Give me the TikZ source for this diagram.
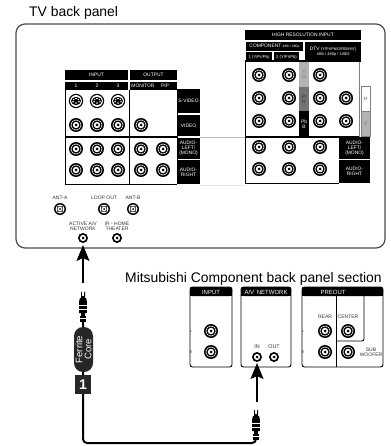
\documentclass[tikz,border=0pt]{standalone}
\usepackage{fontspec}
\setmainfont{Liberation Sans}
\usetikzlibrary{arrows.meta}
\tikzset{
 hdr/.style={fill=black,draw=none,text=white,inner sep=0pt,align=center,font=\fontsize{4.9}{5.2}\selectfont},
 small/.style={inner sep=0pt,align=center,text=black!80,font=\fontsize{5}{5.2}\selectfont},
 title/.style={inner sep=0pt,anchor=base west,font=\fontsize{13.9}{16}\selectfont},
 panel/.style={draw=black,line width=.9pt},
 conn/.style={line width=1.2pt,-{Stealth[length=16pt,width=13pt,inset=3pt]}},
 cable/.style={line width=2pt,rounded corners=4pt}
}
\newcommand{\bigjack}[2]{%
 \fill (#1,#2) circle (7);
 \fill[white] (#1,#2) circle (5.4);
 \fill (#1,#2) circle (4.7);
 \fill[white] (#1,#2) circle (3.2);
 \fill (#1,#2) circle (1.5);
}
\newcommand{\smjack}[2]{%
 \fill (#1,#2) circle (5);
 \fill[white] (#1,#2) circle (3.1);
 \fill (#1,#2) circle (1.5);
}
\newcommand{\svideo}[2]{%
 \fill (#1,#2) circle (7.2);
 \fill[white] (#1,#2) circle (5.9);
 \fill (#1,#2) ellipse (5 and 4.1);
 \foreach \dx/\dy in {-2.3/-1.4,2.3/-1.4,-3/.8,3/.8,0/2}{\fill[white] (#1+\dx,#2+\dy) circle (.8);}
 \fill[white] (#1-1.1,#2-3.4) rectangle (#1+1.1,#2-2);
}
\newcommand{\antjack}[2]{%
 \fill (#1,#2) circle (6);
 \fill[white] (#1,#2) circle (4.5);
 \fill[black!70] (#1-3.2,#2-3.2) rectangle (#1+3.2,#2+3.2);
 \fill[white] (#1,#2) circle (2.3);
 \fill (#1,#2) circle (1);
}
\newcommand{\plugshape}[2]{%
 \fill (#1-2,#2+9) -- (#1-2,#2+2) arc (180:0:2) -- (#1+2,#2+9) -- cycle;
 \fill[white] (#1-.8,#2+2.5) rectangle (#1+.8,#2+7);
 \fill (#1-3,#2+9) -- (#1+3,#2+9) -- (#1+3.8,#2+12) -- (#1+3.8,#2+24) -- (#1-3.8,#2+24) -- (#1-3.8,#2+12) -- cycle;
 \foreach \d in {16,20}{\draw[white,line width=.3pt] (#1-3.8,#2+\d) -- (#1+3.8,#2+\d);}
 \fill (#1-1.8,#2+24) rectangle (#1+1.8,#2+27);
 \fill (#1-3.4,#2+27) rectangle (#1+3.4,#2+33);
 \draw[white,line width=.3pt] (#1-3.4,#2+29.5) -- (#1+3.4,#2+29.5);
}
\begin{document}
\begin{tikzpicture}[x=1pt,y=-1pt]
\useasboundingbox (0,0) rectangle (390,446);
\fill[white] (0,0) rectangle (390,446);
% titles
\node[title] (t1) at (29,17) {TV back panel};
\node[title] (t2) at (125,282) {Mitsubishi Component back panel section};
% TV panel
\draw[draw=black!70,line width=1.2pt,rounded corners=9pt] (16,24) rectangle (385,248);
\draw[black!25,line width=.5pt] (200,137) -- (245,137);
\draw[black!10,line width=.5pt] (200,185) -- (245,185);
% input block
\node[hdr,minimum width=63,minimum height=10] (inhdr) at (96.5,75) {INPUT};
\node[hdr,minimum width=47,minimum height=10] (outhdr) at (153.5,75) {OUTPUT};
\fill (65,82) rectangle (128,90);
\fill (130,82) rectangle (177,90);
\node[hdr] (n1) at (76,86) {1};
\node[hdr] (n2) at (97,86) {2};
\node[hdr] (n3) at (118,86) {3};
\node[hdr] (mon) at (143,86) {MONITOR};
\node[hdr] (pip) at (165,86) {PIP};
\draw[line width=.8pt] (65,90) -- (65,184) -- (177,184);
\draw[line width=.8pt] (129,90) -- (129,184);
\draw[line width=.8pt] (177,90) -- (177,184);
\draw[line width=1.1pt] (65,137) -- (177,137);
\node[hdr,minimum width=23,minimum height=24] (sv) at (188.5,101) {S-VIDEO};
\node[hdr,minimum width=23,minimum height=21] (vd) at (188.5,125.5) {VIDEO};
\node[hdr,minimum width=23,minimum height=21] (al) at (188.5,148.5) {AUDIO-\\LEFT/\\(MONO)};
\node[hdr,minimum width=23,minimum height=24] (ar) at (188.5,172) {AUDIO-\\RIGHT};
\foreach \x in {76,97,118}{\svideo{\x}{101}\bigjack{\x}{125}}
\bigjack{141}{125}
\foreach \x in {76,97,118,141,163}{\bigjack{\x}{149}\bigjack{\x}{170}}
% high res block
\node[hdr,minimum width=116,minimum height=10] (hi) at (303,35) {HIGH RESOLUTION INPUT};
\node[hdr,minimum width=57,minimum height=9.5] (comp) at (274.5,46.5) {COMPONENT {\fontsize{3.4}{4}\selectfont 480i / 480p}};
\node[hdr,minimum width=26,minimum height=10,font=\fontsize{4.2}{5}\selectfont] (c1) at (259,57) {1 (Y/Pr/Pb)};
\node[hdr,minimum width=25,minimum height=10,font=\fontsize{4.2}{5}\selectfont] (c2) at (286.5,57) {2 (Y/Pr/Pb)};
\node[hdr,minimum width=56,minimum height=20] (dtv) at (333,52) {DTV {\fontsize{4}{5}\selectfont(Y/Pr/Pb/G/RB/H/V)}\\[-.5pt]{\fontsize{4}{5}\selectfont 480i / 480p / 1080i}};
\fill (245,60) rectangle (361,62);
\draw[line width=.8pt] (245,62) -- (245,183) -- (339,183);
\draw[black!50,line width=.8pt] (359,62) -- (359,137);
\draw[line width=1.1pt] (245,137) -- (359,137);
\node[hdr,fill=black!30,minimum width=10,minimum height=25,text=black!55] (yg) at (304,74.5) {Y\\G};
\node[hdr,fill=black!55,minimum width=10,minimum height=24,text=black!80] (pr) at (304,99) {Pr\\R};
\node[hdr,minimum width=10,minimum height=26] (pb) at (304,124) {Pb\\B};
\foreach \x in {259,289,320}{\bigjack{\x}{75}}
\foreach \x in {259,289,320,346}{\bigjack{\x}{98}\bigjack{\x}{121}}
\foreach \x in {259,289,320}{\bigjack{\x}{147}\bigjack{\x}{169}}
\node[hdr,fill=white,draw=black!50,line width=.8pt,text=black!70,minimum width=9,minimum height=25] (hh) at (365.5,98.5) {H};
\node[hdr,fill=black!30,draw=black!50,line width=.8pt,text=black!55,minimum width=9,minimum height=25] (vv) at (365.5,123.5) {V};
\node[hdr,minimum width=31,minimum height=22] (al2) at (354.5,148) {AUDIO-\\LEFT/\\(MONO)};
\node[hdr,minimum width=31,minimum height=23] (ar2) at (354.5,171.5) {AUDIO-\\RIGHT};
% antenna row
\node[small] (anta) at (60,198) {ANT-A};
\node[small] (loop) at (104,198) {LOOP OUT};
\node[small] (antb) at (133,198) {ANT-B};
\antjack{60}{209}\antjack{104}{209}\antjack{133}{209}
\node[small] (act) at (83,226.5) {ACTIVE A/V\\NETWORK};
\node[small] (ir) at (117,226.5) {IR - HOME\\THEATER};
\smjack{83}{238}\smjack{117}{238}
% component panels
\draw[panel,rounded corners=2.5pt] (190,287) rectangle (232,367);
\draw[panel,rounded corners=2.5pt] (241,287) rectangle (291,367);
\draw[panel,rounded corners=2.5pt] (302,287) rectangle (383,367);
\fill[rounded corners=2.5pt] (190,296) -- (190,287) -- (232,287) -- (232,296) -- cycle;
\fill[rounded corners=2.5pt] (241,296) -- (241,287) -- (291,287) -- (291,296) -- cycle;
\fill[rounded corners=2.5pt] (302,296) -- (302,287) -- (383,287) -- (383,296) -- cycle;
\fill (190,292) rectangle (232,296);
\fill (241,292) rectangle (291,296);
\fill (302,292) rectangle (383,296);
\node[hdr,font=\fontsize{6}{6}\selectfont] (h1) at (211,292.3) {INPUT};
\node[hdr,font=\fontsize{6}{6}\selectfont] (h2) at (266,292.3) {A/V\, NETWORK};
\node[hdr,font=\fontsize{6}{6}\selectfont] (h3) at (333,292.3) {PREOUT};
\bigjack{211}{331}\bigjack{211}{352}
\node[small,font=\fontsize{3.6}{4}\selectfont] (l1) at (191,331) {L};
\node[small,font=\fontsize{3.6}{4}\selectfont] (r1) at (191,352) {R};
\node[small,font=\fontsize{5.4}{6}\selectfont] (in) at (257,347) {IN};
\node[small,font=\fontsize{5.4}{6}\selectfont] (out) at (274,347) {OUT};
\smjack{257}{357}\smjack{274}{357}
\draw[panel] (336,296) -- (336,367);
\draw[panel,rounded corners=2pt] (336,341) -- (364,341) -- (364,296);
\node[small] (rear) at (325,317) {REAR};
\node[small] (cent) at (348,317) {CENTER};
\node[small] (sub) at (371,352.5) {SUB\\WOOFER};
\node[small,font=\fontsize{3.6}{4}\selectfont] (l2) at (303,331) {L};
\node[small,font=\fontsize{3.6}{4}\selectfont] (r2) at (303,352) {R};
\bigjack{325}{331}\bigjack{325}{352}\bigjack{348}{331}\bigjack{348}{352}
% connectors
\coordinate (jackA) at (83,245);
\coordinate (jackB) at (257,363);
\coordinate (tailA) at (83,283);
\coordinate (tailB) at (257,402);
\coordinate (plugAend) at (83,322);
\coordinate (plugBend) at (256,439);
\draw[conn] (tailA) -- (jackA);
\draw[conn] (tailB) -- (jackB);
\draw[cable] (plugAend) -- (83,443) -- (256,443) -- (plugBend);
\plugshape{83}{289}
\plugshape{256}{407}
\node[fill=black!85,text=white,rounded corners=9pt,inner sep=0pt,align=center,rotate=90,font=\fontsize{9.5}{9.5}\selectfont,minimum width=45,minimum height=19] (ferrite) at (83.5,349.5) {Ferrite\\[-.5pt]Core};
\node[fill=black!85,text=white,minimum width=16,minimum height=19,inner sep=0pt,font=\bfseries\fontsize{14}{14}\selectfont] (one) at (83,384.5) {1};
\end{tikzpicture}
\end{document}
